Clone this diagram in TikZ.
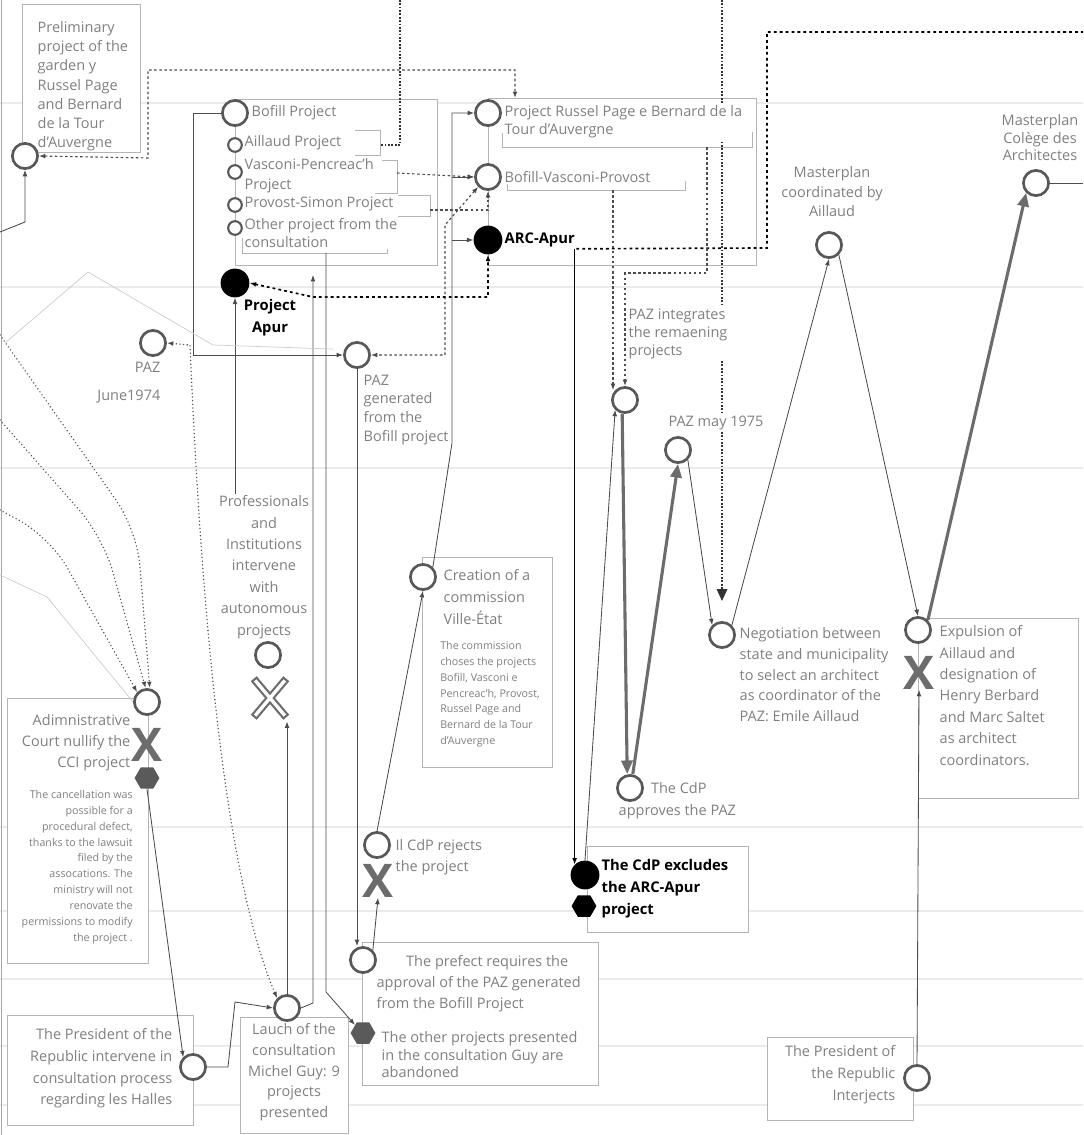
\documentclass[tikz,border=0pt]{standalone}
\usepackage{fontspec}
\setmainfont{Open Sans}
\usepackage{tikz}
\usetikzlibrary{arrows.meta}
\usetikzlibrary{shapes}
\usetikzlibrary{shapes.geometric}

\definecolor{txtgray}{HTML}{808080}
\definecolor{ringgray}{HTML}{585858}
\definecolor{linegray}{HTML}{4C4C4C}
\definecolor{framegray}{HTML}{B4B4B4}
\definecolor{gridgray}{HTML}{EBEBEB}
\definecolor{xgray}{HTML}{6C6C6C}
\definecolor{hexgray}{HTML}{5A5A5A}

\pgfdeclarelayer{grid}
\pgfdeclarelayer{links}
\pgfsetlayers{grid,links,main}

\tikzset{
  >={Latex[length=1.6mm,width=1.2mm]},
  ring/.style={circle,draw=ringgray,line width=1.9pt,fill=white,minimum size=0.63cm,inner sep=0pt},
  smallring/.style={circle,draw=ringgray,line width=1.5pt,fill=white,minimum size=0.34cm,inner sep=0pt},
  blackdot/.style={circle,fill=black,minimum size=0.72cm,inner sep=0pt},
  hexa/.style={regular polygon,regular polygon sides=6,fill=#1,minimum size=0.62cm,inner sep=0pt},
  lbl/.style={text=txtgray,font=\fontsize{10.3}{14.7}\selectfont,inner sep=1pt,fill=white},
  boldlbl/.style={text=black,font=\fontsize{10.5}{15.5}\selectfont\bfseries,inner sep=1pt,fill=white},
  smalltxt/.style={text=txtgray,font=\fontsize{7.6}{11.3}\selectfont,inner sep=0pt},
  bigx/.style={text=xgray,font=\fontsize{33}{33}\selectfont\bfseries,inner sep=0pt},
  frame/.style={draw=framegray,line width=0.6pt,fill=white},
  bracket/.style={draw=framegray,line width=0.6pt},
  gridline/.style={draw=gridgray,line width=1.2pt},
  link/.style={draw=linegray,line width=0.6pt},
  darklink/.style={draw=black,line width=0.9pt},
  thicklink/.style={draw=xgray,line width=2.2pt,-{Triangle[length=3.4mm,width=2.8mm]}},
  faint/.style={draw=gray!40,line width=0.5pt},
  dashlink/.style={draw=linegray,line width=0.8pt,dash pattern=on 1.8pt off 1.8pt},
  blackdash/.style={draw=black,line width=1.2pt,dash pattern=on 2pt off 2.2pt},
  dotlink/.style={draw=linegray,line width=1.1pt,line cap=round,dash pattern=on 0pt off 2.6pt},
  heavydots/.style={draw=black!80,line width=1.5pt,dash pattern=on 1.2pt off 1.2pt}
}

\begin{document}
\begin{tikzpicture}[x=0.025cm,y=-0.025cm]
\useasboundingbox (0,0) rectangle (1083,1135);

\begin{pgfonlayer}{grid}
\foreach \gy in {103,287,468,827,911,979,1046,1105}
  \draw[gridline] (0,\gy) -- (1083,\gy);
\draw[draw=gray!70,line width=0.8pt] (1.5,0) -- (1.5,1135);
\draw[frame] (22,4) rectangle (140,152);
\draw[frame] (235,99) rectangle (437,265);
\draw[frame] (488,98) rectangle (756,265);
\draw[frame] (422,557) rectangle (552,767);
\draw[frame] (7,698) rectangle (148,963);
\draw[frame] (7,1015) rectangle (193,1125);
\draw[frame] (240,1017) rectangle (348,1133);
\draw[frame] (362,942) rectangle (598,1085);
\draw[frame] (587,846) rectangle (748,932);
\draw[frame] (918,618) rectangle (1078,798);
\draw[frame] (767,1037) rectangle (913,1120);
\end{pgfonlayer}

% texts
\node[lbl,anchor=north west,align=left,font=\fontsize{10.3}{13.6}\selectfont] (At) at (36,20) {Preliminary\\project of the\\garden y\\Russel Page\\and Bernard\\de la Tour\\d'Auvergne};
\node[lbl,anchor=west] (Bt) at (250,113) {Bofill Project};
\node[lbl,anchor=west] (B1t) at (243,143) {Aillaud Project};
\node[lbl,anchor=north west,align=left,font=\fontsize{10.3}{14}\selectfont] (B2t) at (243,157) {Vasconi-Pencreac'h\\Project};
\node[lbl,anchor=west] (B3t) at (243,204) {Provost-Simon Project};
\node[lbl,anchor=north west,align=left,font=\fontsize{10.3}{12.5}\selectfont] (B4t) at (243,217) {Other project from the\\consultation};
\node[boldlbl,anchor=north,align=center] (PAt) at (270,298) {Project\\Apur};
\node[lbl,anchor=north west,align=left,font=\fontsize{10.3}{12.8}\selectfont] (R1t) at (503,104) {Project Russel Page e Bernard de la\\Tour d'Auvergne};
\node[lbl,anchor=west] (R2t) at (503,177) {Bofill-Vasconi-Provost};
\node[boldlbl,anchor=west] (R3t) at (503,240) {ARC-Apur};
\node[lbl,anchor=north east,align=right,font=\fontsize{10.3}{20}\selectfont] (Jt) at (162,360) {PAZ\\June1974};
\node[lbl,anchor=north west,align=left,font=\fontsize{10.3}{13.3}\selectfont] (Gt) at (362,373) {PAZ\\generated\\from the\\Bofill project};
\node[lbl,anchor=north,align=center,font=\fontsize{10.3}{15.2}\selectfont] (P) at (264,494) {Professionals\\and\\Institutions\\intervene\\with\\autonomous\\projects};
\node[lbl,anchor=north west,align=left,font=\fontsize{10.3}{15.5}\selectfont] (Ct) at (442,568) {Creation of a\\commission\\Ville-État};
\node[smalltxt,anchor=north west,align=left] (Cs) at (440,641) {The commission\\choses the projects\\Bofill, Vasconi e\\Pencreac'h, Provost,\\Russel Page and\\Bernard de la Tour\\d'Auvergne};
\node[lbl,anchor=north east,align=right,font=\fontsize{10.3}{15}\selectfont] (Dt) at (132,713) {Adimnistrative\\Court nullify the\\CCI project};
\node[smalltxt,anchor=north east,align=right] (Ds) at (133,790) {The cancellation was\\possible for a\\procedural defect,\\thanks to the lawsuit\\filed by the\\assocations. The\\ministry will not\\renovate the\\permissions to modify\\the project .};
\node[lbl,anchor=north east,align=right,font=\fontsize{10.3}{15.4}\selectfont] (Prt) at (174,1027) {The President of the\\Republic intervene in\\consultation process\\regarding les Halles};
\node[lbl,anchor=north,align=center,font=\fontsize{10.3}{14.7}\selectfont] (Lt) at (294,1022) {Lauch of the\\consultation\\Michel Guy: 9\\projects\\presented};
\node[lbl,anchor=north west,align=left,font=\fontsize{10.3}{14.9}\selectfont] (Kt) at (394,838) {Il CdP rejects\\the project};
\node[lbl,anchor=north west,align=left,font=\fontsize{10.3}{14.9}\selectfont] (Ft) at (375,954) {\hspace*{21pt}The prefect requires the\\approval of the PAZ generated\\from the Bofill Project};
\node[lbl,anchor=north west,align=left,font=\fontsize{10.3}{12.4}\selectfont] (Ht) at (380,1030) {The other projects presented\\in the consultation Guy are\\abandoned};
\node[lbl,anchor=north west,align=left,font=\fontsize{10.3}{12.8}\selectfont] (It) at (627,307) {PAZ integrates\\the remaening\\projects};
\node[lbl] (Mt) at (716,423) {PAZ may 1975};
\node[lbl,anchor=north west,align=left,font=\fontsize{10.3}{15.5}\selectfont] (Qt) at (617,781) {\hspace*{23pt}The CdP\\approves the PAZ};
\node[boldlbl,anchor=north west,align=left] (Et) at (600,858) {The CdP excludes\\the ARC-Apur\\project};
\node[lbl,anchor=north west,align=left] (Nt) at (738,626) {Negotiation between\\state and municipality\\to select an architect\\as coordinator of the\\PAZ: Emile Aillaud};
\node[lbl,anchor=north,align=center,font=\fontsize{10.3}{13.8}\selectfont] (MAt) at (832,165) {Masterplan\\coordinated by\\Aillaud};
\node[lbl,anchor=north west,align=left,font=\fontsize{10.3}{15.2}\selectfont] (X1t) at (938,624) {Expulsion of\\Aillaud and\\designation of\\Henry Berbard\\and Marc Saltet\\as architect\\coordinators.};
\node[lbl,anchor=north,align=center,font=\fontsize{10.3}{12.4}\selectfont] (MCt) at (1040,113) {Masterplan\\Colège des\\Architectes};
\node[lbl,anchor=north east,align=right,font=\fontsize{10.3}{15.5}\selectfont] (Tt) at (897,1044) {The President of\\the Republic\\Interjects};

% circles and marks
\node[ring] (Pc) at (25,156) {};
\node[ring] (B) at (235,113) {};
\node[smallring] (B1) at (235,145) {};
\node[smallring] (B2) at (235,172) {};
\node[smallring] (B3) at (235,205) {};
\node[smallring] (B4) at (235,228) {};
\node[blackdot] (PA) at (235,283) {};
\node[ring] (R1) at (488,113) {};
\node[ring] (R2) at (488,177) {};
\node[blackdot] (R3) at (488,240) {};
\node[ring] (J) at (153,343) {};
\node[ring] (G) at (357,355) {};
\node[ring] (Pp) at (268,655) {};
\node[ring] (C) at (423,577) {};
\node[ring] (K) at (377,845) {};
\node[bigx] (Kx) at (378,881) {X};
\node[ring] (F) at (363,960) {};
\node[hexa=hexgray] (H2) at (363,1033) {};
\node[ring] (L) at (287,1008) {};
\node[ring] (D) at (147,702) {};
\node[bigx] (Dx) at (147,745) {X};
\node[hexa=hexgray] (Dh) at (147,778) {};
\node[ring] (Pr) at (193,1067) {};
\node[ring] (I) at (625,400) {};
\node[ring] (M) at (678,450) {};
\node[ring] (Q) at (630,788) {};
\node[blackdot] (E) at (585,875) {};
\node[hexa=black] (Eh) at (584,906) {};
\node[ring] (N) at (722,635) {};
\node[ring] (MA) at (829,245) {};
\node[ring] (X1) at (918,630) {};
\node[bigx] (Ex) at (919,673) {X};
\node[ring] (MC) at (1036,183) {};
\node[ring] (T) at (917,1078) {};

\node[minimum width=0.8cm,minimum height=0.95cm,inner sep=0pt] (Xp) at (270,698) {};
\draw[xgray,line width=5.5pt] (Xp.north west) -- (Xp.south east);
\draw[xgray,line width=5.5pt] (Xp.north east) -- (Xp.south west);
\draw[white,line width=2.4pt,shorten <=1.6pt,shorten >=1.6pt] (Xp.north west) -- (Xp.south east);
\draw[white,line width=2.4pt,shorten <=1.6pt,shorten >=1.6pt] (Xp.north east) -- (Xp.south west);

\coordinate (a1) at (380,145);
\coordinate (v1) at (397,173);
\coordinate (p1) at (430,210);
\coordinate (o1) at (326,253);
\coordinate (rb) at (707,147);
\coordinate (bv) at (613,190);
\coordinate (top1) at (400,0);
\coordinate (top2) at (722,0);
\coordinate (edge1) at (1083,32);
\coordinate (edge2) at (1083,183);
\coordinate (boxR) at (515,98);
\coordinate (boxB) at (313,275);
\coordinate (left1) at (0,232);

\begin{pgfonlayer}{links}
\draw[bracket] (355,130) -- (380,130) -- (380,155) -- (355,155);
\draw[bracket] (382,160) -- (397,160) -- (397,193) -- (365,193);
\draw[bracket] (398,195) -- (430,195) -- (430,216) -- (398,216);
\draw[bracket] (242,238) -- (242,253) -- (387,253) -- (387,238);
\draw[bracket] (502,133) -- (502,147) -- (752,147) -- (752,132);
\draw[bracket] (507,181) -- (507,190) -- (685,190) -- (685,181);

\draw[link,->] (left1) -- (25,222) -- (Pc.south);
\draw[dashlink,<->] (Pc.east) -- (148,158) -- (148,70) -| (boxR);
\draw[heavydots] (top1) |- (a1);
\draw[dashlink,->] (v1) -- (R2.west);
\draw[dashlink,->] (p1) -| (R2.south);
\draw[dashlink,<->] (R2.south west) -- (445,225) -- (445,355) -- (G.east);
\draw[blackdash,<->] (PA.east) -- (313,297) -| (R3.south);
\draw[blackdash] (R3t.south east) -- (767,248) |- (edge1);
\draw[link,->] (C.north east) -- (452,443) |- (R1.west);
\draw[link,->] (452,177) -- (R2.west);
\draw[link,->] (452,240) -- (R3.west);
\draw[link,->] (B.west) -- (193,113) |- (G.west);
\draw[link,->] (P.north -| PA.south) -- (PA.south);
\draw[link,->] (L.east) -- (313,1003) -- (boxB);
\draw[link,->,shorten >=3pt] (L.north) -- (L.north |- Xp.south);
\draw[link,->] (o1) -- (326,992) -- (H2.north west);
\draw[link,->] (G.south) -- (G.south |- F.north);
\draw[link,->] (F.north east) -- (Kx.south);
\draw[link,->] (K.north) -- (C.south);
\draw[dotlink,->,rounded corners=25pt] (0,335) -- (137,530) -- ([xshift=2pt]D.north);
\draw[dotlink,->,rounded corners=25pt] (0,420) -- (103,537) -- ([xshift=-1pt]D.north);
\draw[dotlink,->,rounded corners=25pt] (0,510) -- (50,537) -- (D.north west);
\draw[faint] (0,575) -- (47,597) -- (D.west);
\draw[faint] (5,343) -- (88,272) -- (213,345) -- (333,349);
\draw[link,->] (Dh.south) -- (Pr.north west);
\draw[link,->] (Pr.east) -- (228,1067) -- (235,1002) -- (L.west);
\draw[dotlink,<->] (J.east) -- (190,345) .. controls (205,700) and (235,900) .. (L.north west);
\draw[darklink,->] (R3t.south -| E.north west) -- (E.north west);
\draw[link,->] (E.north) -- (I.south west);
\draw[dashlink,->] (bv) -- (bv |- I.north west);
\draw[dashlink,->] (rb) -- (707,273) -| (I.north);
\draw[heavydots,-{Triangle[length=3mm,width=2.6mm]},shorten >=0.5cm] (top2) -- (N.north);
\draw[thicklink] ([xshift=-2pt]I.south) -- ([xshift=-2pt]Q.north);
\draw[thicklink] ([xshift=2pt]Q.north) -- (M.south);
\draw[link,->] (M.south east) -- (N.north west);
\draw[link,->] (N.north east) -- (MA.south);
\draw[link,->] (MA.south east) -- (X1.north);
\draw[thicklink] (X1.north east) -- (MC.south west);
\draw[link] (MC.east) -- (edge2);
\draw[link,->] (T.north) -- (Ex.south);
\end{pgfonlayer}
\end{tikzpicture}
\end{document}
